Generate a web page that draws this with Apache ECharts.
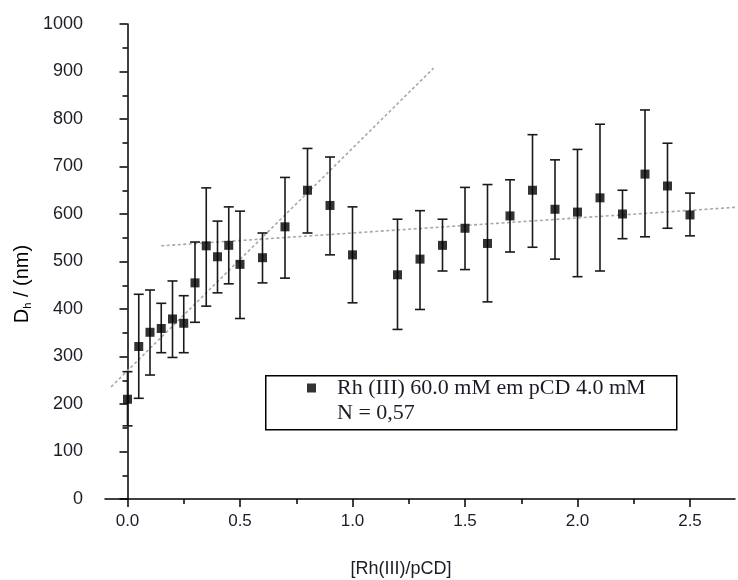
<!DOCTYPE html>
<html>
<head>
<meta charset="utf-8">
<script src="https://cdn.jsdelivr.net/npm/echarts@6/dist/echarts.min.js"></script>
<style>
html,body{margin:0;padding:0;background:#fff;}
#chart{width:738px;height:580px;}
</style>
</head>
<body>
<div id="chart"></div>
<script>
// ---- data ----
const ratio = [0, 0.05, 0.1, 0.15, 0.2, 0.25, 0.3, 0.35, 0.4, 0.45, 0.5, 0.6, 0.7, 0.8, 0.9, 1.0,
               1.2, 1.3, 1.4, 1.5, 1.6, 1.7, 1.8, 1.9, 2.0, 2.1, 2.2, 2.3, 2.4, 2.5];
const dh = [210, 321, 351, 359, 379, 370, 455, 533, 510, 534, 494, 508, 573, 650, 618, 514,
            472, 505, 534, 570, 538, 596, 650, 610, 604, 634, 600, 684, 659, 598];
const errLow = [154, 212, 261, 308, 298, 308, 372, 406, 434, 453, 380, 455, 465, 560, 514, 413,
                357, 399, 480, 483, 415, 520, 530, 505, 468, 480, 548, 552, 570, 554];
const errHigh = [268, 431, 440, 412, 459, 428, 541, 655, 585, 615, 606, 560, 677, 738, 720, 615,
                 589, 607, 589, 656, 662, 672, 767, 714, 736, 789, 650, 819, 749, 644];
// dotted fit lines (end points)
const fit1X = [-0.073, 1.36];
const fit1Y = [236, 907];
const fit2X = [0.15, 2.7];
const fit2Y = [533, 614];
const xMajor = [0, 0.5, 1.0, 1.5, 2.0, 2.5];
const xMinor = [0.25, 0.75, 1.25, 1.75, 2.25];
const seriesName = 'Rh (III) 60.0 mM em pCD 4.0 mM';
const noteText = 'N = 0,57';

const chart = echarts.init(document.getElementById('chart'), null, {renderer: 'canvas'});
const txtColor = '#1c1c28';
const sans = 'Liberation Sans, Arial, sans-serif';
const serif = '"Liberation Serif", "Times New Roman", serif';

const option = {
  backgroundColor: '#fff',
  animation: false,
  grid: {left: 105, right: 3, top: 24, bottom: 81},
  xAxis: [
    {
      type: 'value', min: -0.1, max: 2.7, position: 'bottom',
      axisLine: {show: true, onZero: false, lineStyle: {color: '#000', width: 1.5}},
      axisTick: {show: true, length: 8, customValues: xMajor, lineStyle: {color: '#000', width: 1.5}},
      axisLabel: {
        margin: 14, fontFamily: sans, fontSize: 17, color: txtColor,
        customValues: xMajor,
        formatter: function (v) { return v.toFixed(1); }
      },
      splitLine: {show: false}
    },
    {
      type: 'value', min: -0.1, max: 2.7, position: 'bottom', offset: 0,
      axisLine: {show: false, onZero: false},
      axisTick: {show: true, length: 5, customValues: xMinor, lineStyle: {color: '#000', width: 1.5}},
      axisLabel: {show: false},
      splitLine: {show: false}
    }
  ],
  yAxis: {
    type: 'value', min: 0, max: 1000, interval: 100,
    axisLine: {show: true, lineStyle: {color: '#000', width: 1.5}},
    axisTick: {show: true, length: 8, lineStyle: {color: '#000', width: 1.5}},
    minorTick: {show: true, splitNumber: 2, length: 5, lineStyle: {color: '#000', width: 1.5}},
    axisLabel: {margin: 22, fontFamily: sans, fontSize: 18, color: txtColor,
      formatter: function (v) { return String(v); }},
    splitLine: {show: false}
  },
  legend: {
    show: true, data: [{name: seriesName, icon: 'rect'}],
    left: 307, top: 377, itemWidth: 9, itemHeight: 9, padding: 0,
    textStyle: {fontFamily: serif, fontSize: 22, color: txtColor, padding: [0, 0, 0, 16]},
    selectedMode: false
  },
  series: [
    {
      type: 'line', name: 'fit1', data: fit1X.map((x, i) => [x, fit1Y[i]]),
      showSymbol: false, symbol: 'none', silent: true, z: 1,
      lineStyle: {color: '#a8a8a8', width: 1.6, type: [3, 2.5]}
    },
    {
      type: 'line', name: 'fit2', data: fit2X.map((x, i) => [x, fit2Y[i]]),
      showSymbol: false, symbol: 'none', silent: true, z: 1,
      lineStyle: {color: '#a8a8a8', width: 1.6, type: [3, 2.5]}
    },
    {
      type: 'custom', name: 'err', z: 2,
      data: ratio.map((x, i) => [x, errLow[i], errHigh[i]]),
      renderItem: function (params, api) {
        const x = api.value(0);
        const lo = api.coord([x, api.value(1)]);
        const hi = api.coord([x, api.value(2)]);
        const w = 5;
        const st = {stroke: '#1a1a1a', lineWidth: 1.6};
        return {type: 'group', children: [
          {type: 'line', shape: {x1: lo[0], y1: lo[1], x2: hi[0], y2: hi[1]}, style: st},
          {type: 'line', shape: {x1: lo[0] - w, y1: lo[1], x2: lo[0] + w, y2: lo[1]}, style: st},
          {type: 'line', shape: {x1: hi[0] - w, y1: hi[1], x2: hi[0] + w, y2: hi[1]}, style: st}
        ]};
      }
    },
    {
      type: 'scatter', name: seriesName, z: 3,
      data: ratio.map((x, i) => [x, dh[i]]),
      symbol: 'rect', symbolSize: 9,
      itemStyle: {color: '#000'}
    }
  ],
  graphic: [
    {
      type: 'rect', left: 265, top: 375, z: 0,
      shape: {width: 411, height: 54},
      style: {fill: '#fff', stroke: '#000', lineWidth: 1.5}
    },
    {
      type: 'text', left: 337, top: 402, z: 10,
      style: {text: noteText, font: '22px ' + serif, fill: txtColor}
    },
    {
      type: 'text', x: 22, y: 284, rotation: Math.PI / 2, z: 10,
      style: {
        text: '{a|D}{b|h}{a| / (nm)}',
        align: 'center', verticalAlign: 'middle',
        rich: {
          a: {fontFamily: sans, fontSize: 20, color: txtColor},
          b: {fontFamily: sans, fontSize: 11, color: txtColor, padding: [12, 0, 0, 0]}
        }
      }
    },
    {
      type: 'text', x: 401, y: 569, z: 10,
      style: {text: '[Rh(III)/pCD]', align: 'center', verticalAlign: 'middle',
        font: '18px ' + sans, fill: txtColor}
    }
  ]
};
chart.setOption(option);
</script>
</body>
</html>
